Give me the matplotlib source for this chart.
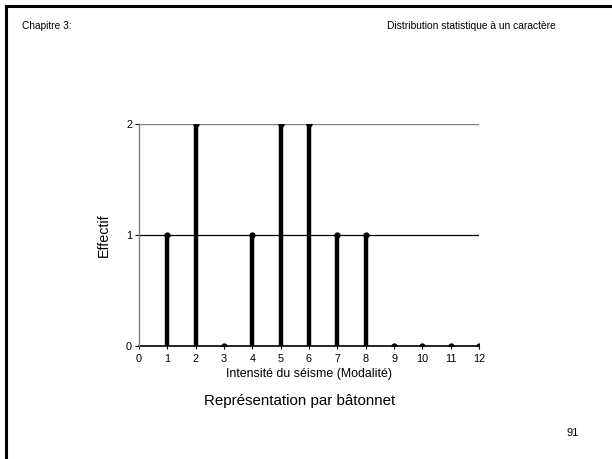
import matplotlib.pyplot as plt
from matplotlib.lines import Line2D

plt.rcParams['font.family'] = ['Liberation Sans', 'DejaVu Sans']

modalites = [1, 2, 3, 4, 5, 6, 7, 8, 9, 10, 11, 12]
effectifs = [1, 2, 0, 1, 2, 2, 1, 1, 0, 0, 0, 0]
xticks = list(range(0, 13))
yticks = [0, 1, 2]

fig = plt.figure(figsize=(6.12, 4.59), dpi=100)
ax = fig.add_axes([0.2271, 0.2462, 0.5556, 0.4836])

# grid lines
ax.axhline(1, color='black', linewidth=0.9, zorder=1)
ax.axhline(2, color='#808080', linewidth=1.0, zorder=1)

ax.vlines(modalites, 0, effectifs, color='black', linewidth=3.2, zorder=3)
ax.plot(modalites, effectifs, linestyle='none', marker='o', markersize=3.5,
        color='black', zorder=4)

ax.set_xlim(0, 12)
ax.set_ylim(0, 2)
ax.set_xticks(xticks)
ax.set_yticks(yticks)
ax.tick_params(labelsize=7.8, length=3, width=0.8, pad=2)
ax.tick_params(axis='x', pad=4, length=2)
for s in ['top', 'right']:
    ax.spines[s].set_visible(False)
ax.spines['left'].set_color('#808080')
ax.spines['left'].set_linewidth(1.0)
ax.spines['bottom'].set_linewidth(1.2)
ax.spines['bottom'].set_zorder(2)

ax.set_xlabel('Intensité du séisme (Modalité)', fontsize=8.9, labelpad=3)
ax.set_ylabel('Effectif', fontsize=10.3, labelpad=11)

# page frame
fig.add_artist(Line2D([6 / 612, 6 / 612], [0, 1 - 6 / 459], transform=fig.transFigure,
                      color='black', linewidth=2.2))
fig.add_artist(Line2D([6 / 612, 1], [1 - 6 / 459, 1 - 6 / 459], transform=fig.transFigure,
                      color='black', linewidth=2.2))

fig.text(22 / 612, 1 - 26 / 459, 'Chapitre 3:', fontsize=7.3, va='center', ha='left')
fig.text(387 / 612, 1 - 26 / 459, 'Distribution statistique à un caractère',
         fontsize=7.4, va='center', ha='left')
fig.text(300 / 612, 1 - 401 / 459, 'Représentation par bâtonnet', fontsize=10.9,
         va='center', ha='center')
fig.text(573 / 612, 1 - 433 / 459, '91', fontsize=8, va='center', ha='center')

fig.savefig('out.png', dpi=100)
